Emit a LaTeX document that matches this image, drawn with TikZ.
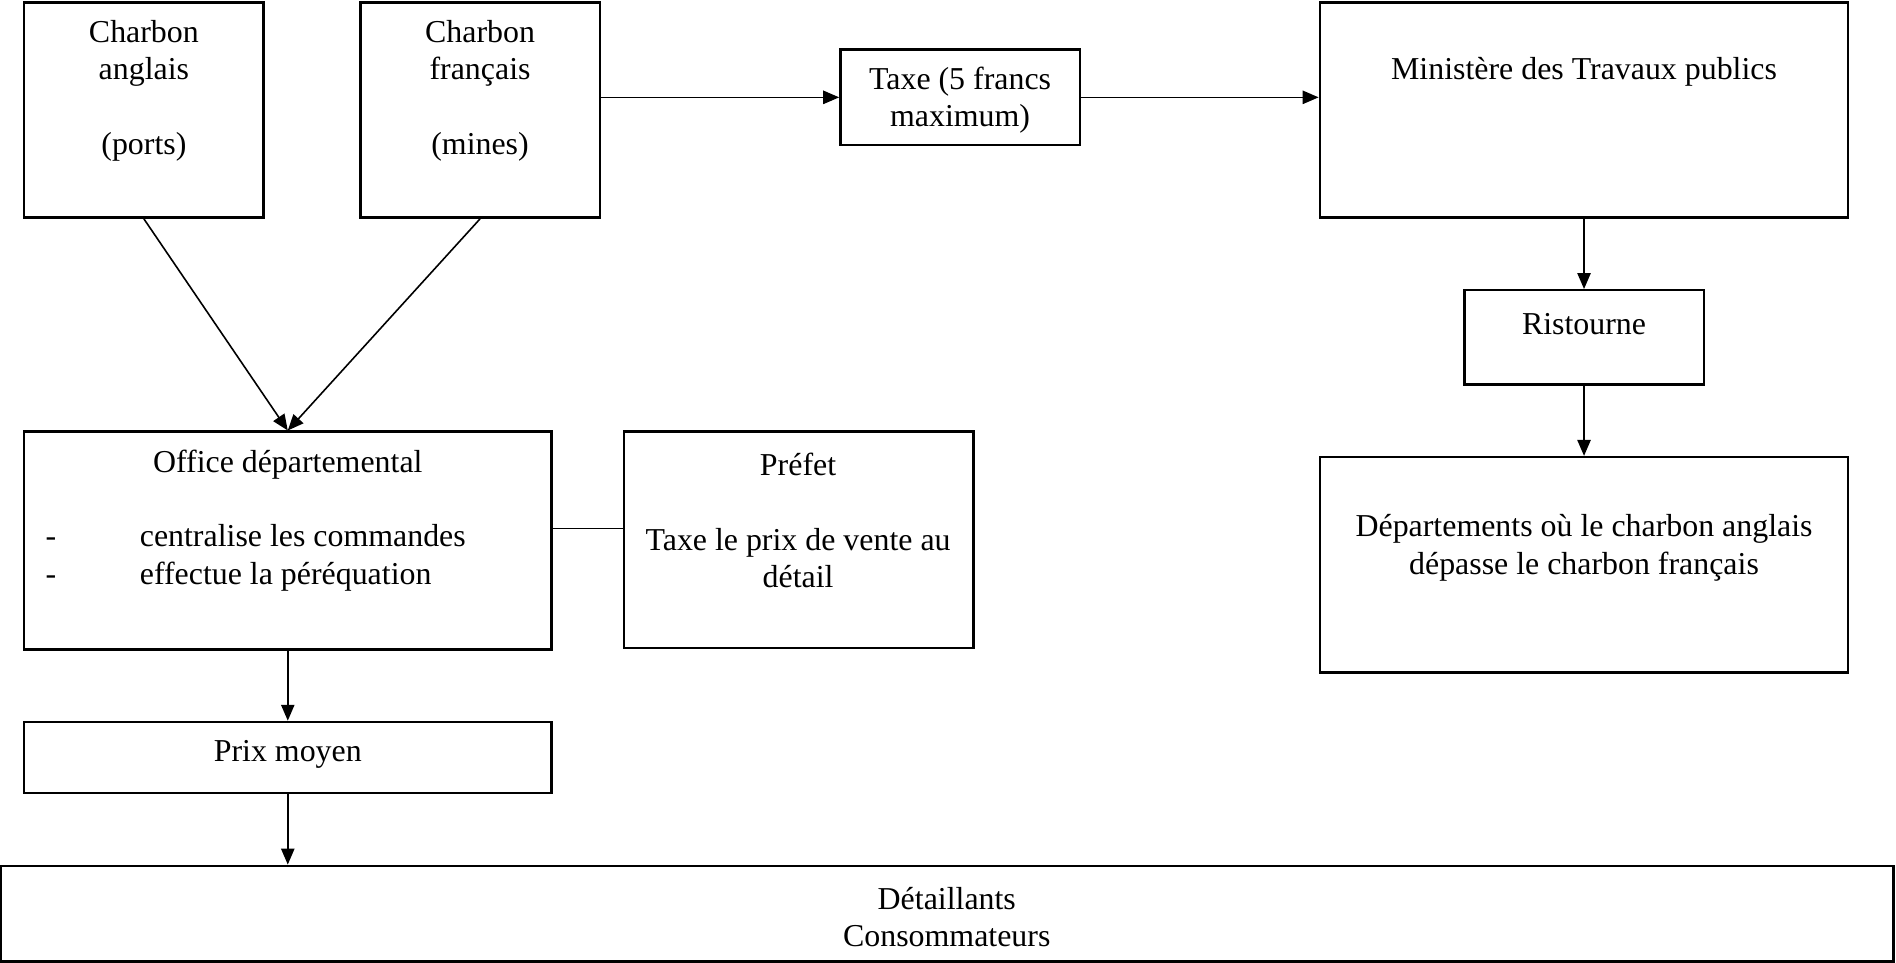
\documentclass[tikz,border=0pt]{standalone}
\usepackage{fontspec}
\setmainfont{Liberation Serif}
\usetikzlibrary{arrows.meta}
\newcommand{\pxu}{0.455pt}

\begin{document}
\begin{tikzpicture}[x=\pxu,y=-\pxu,->,>={Triangle[length=6pt,width=5pt]},line width=0.6pt,
        box/.style 2 args={rectangle,draw=black,line width=0.9pt,inner sep=0pt,minimum width=#1*\pxu,minimum height=#2*\pxu},
        every node/.style={font=\fontsize{12}{14.1}\selectfont,align=center,inner sep=0pt}]
        \useasboundingbox (0,0) rectangle (1568,796);
        \node[box={198}{178}]  (ang)  at (119,91)      {};
        \node[box={198}{178}]  (fra)  at (397,91)      {};
        \node[box={198}{79}]   (tax)  at (794,80.5)    {};
        \node[box={437}{178}]  (min)  at (1310,91)     {};
        \node[box={198}{78}]   (ris)  at (1310,279)    {};
        \node[box={437}{178}]  (dep)  at (1310,467)    {};
        \node[box={436}{180}]  (off)  at (238,447)     {};
        \node[box={289}{179}]  (pre)  at (660.5,446.5) {};
        \node[box={436}{59}]   (pm)   at (238,626.5)   {};
        \node[box={1565}{79}]  (det)  at (783.5,755.5) {};
        % texts of the boxes
        \node (ang-t) at (119,75)     {Charbon\\anglais\\[14.1pt](ports)};
        \node (fra-t) at (397,75)     {Charbon\\français\\[14.1pt](mines)};
        \node (tax-t) at (794,83)     {Taxe (5 francs\\maximum)};
        \node (min-t) at (1310,59)    {Ministère des Travaux publics};
        \node (ris-t) at (1310,268)   {Ristourne};
        \node (dep-t) at (1310,453)   {Départements où le charbon anglais\\dépasse le charbon français};
        \node (off-t) at (238,384)    {Office départemental};
        \node[anchor=west,align=left] (off-l) at (37,461.5)
          {\makebox[35.5pt][l]{-}centralise les commandes\\\makebox[35.5pt][l]{-}effectue la péréquation};
        \node (pre-t) at (660,384)    {Préfet};
        \node (pre-l) at (660,461.5)  {Taxe le prix de vente au\\détail};
        \node (pm-t)  at (238,624)    {Prix moyen};
        \node (det-t) at (783,758.5)  {Détaillants\\Consommateurs};
        \coordinate (link) at ([yshift=4.5pt]off.east);
        \path
          (ang.south) edge (off.north)
          (fra.south) edge (off.north)
          (fra.east |- tax.west) edge (tax.west)
          (tax.east) edge (tax.east -| min.west)
          (min.south) edge (ris.north)
          (ris.south) edge (dep.north)
          (off.south) edge (pm.north)
          (pm.south) edge (pm.south |- det.north);
        \draw[-] (link) -- (link -| pre.west);
      \end{tikzpicture}
\end{document}
